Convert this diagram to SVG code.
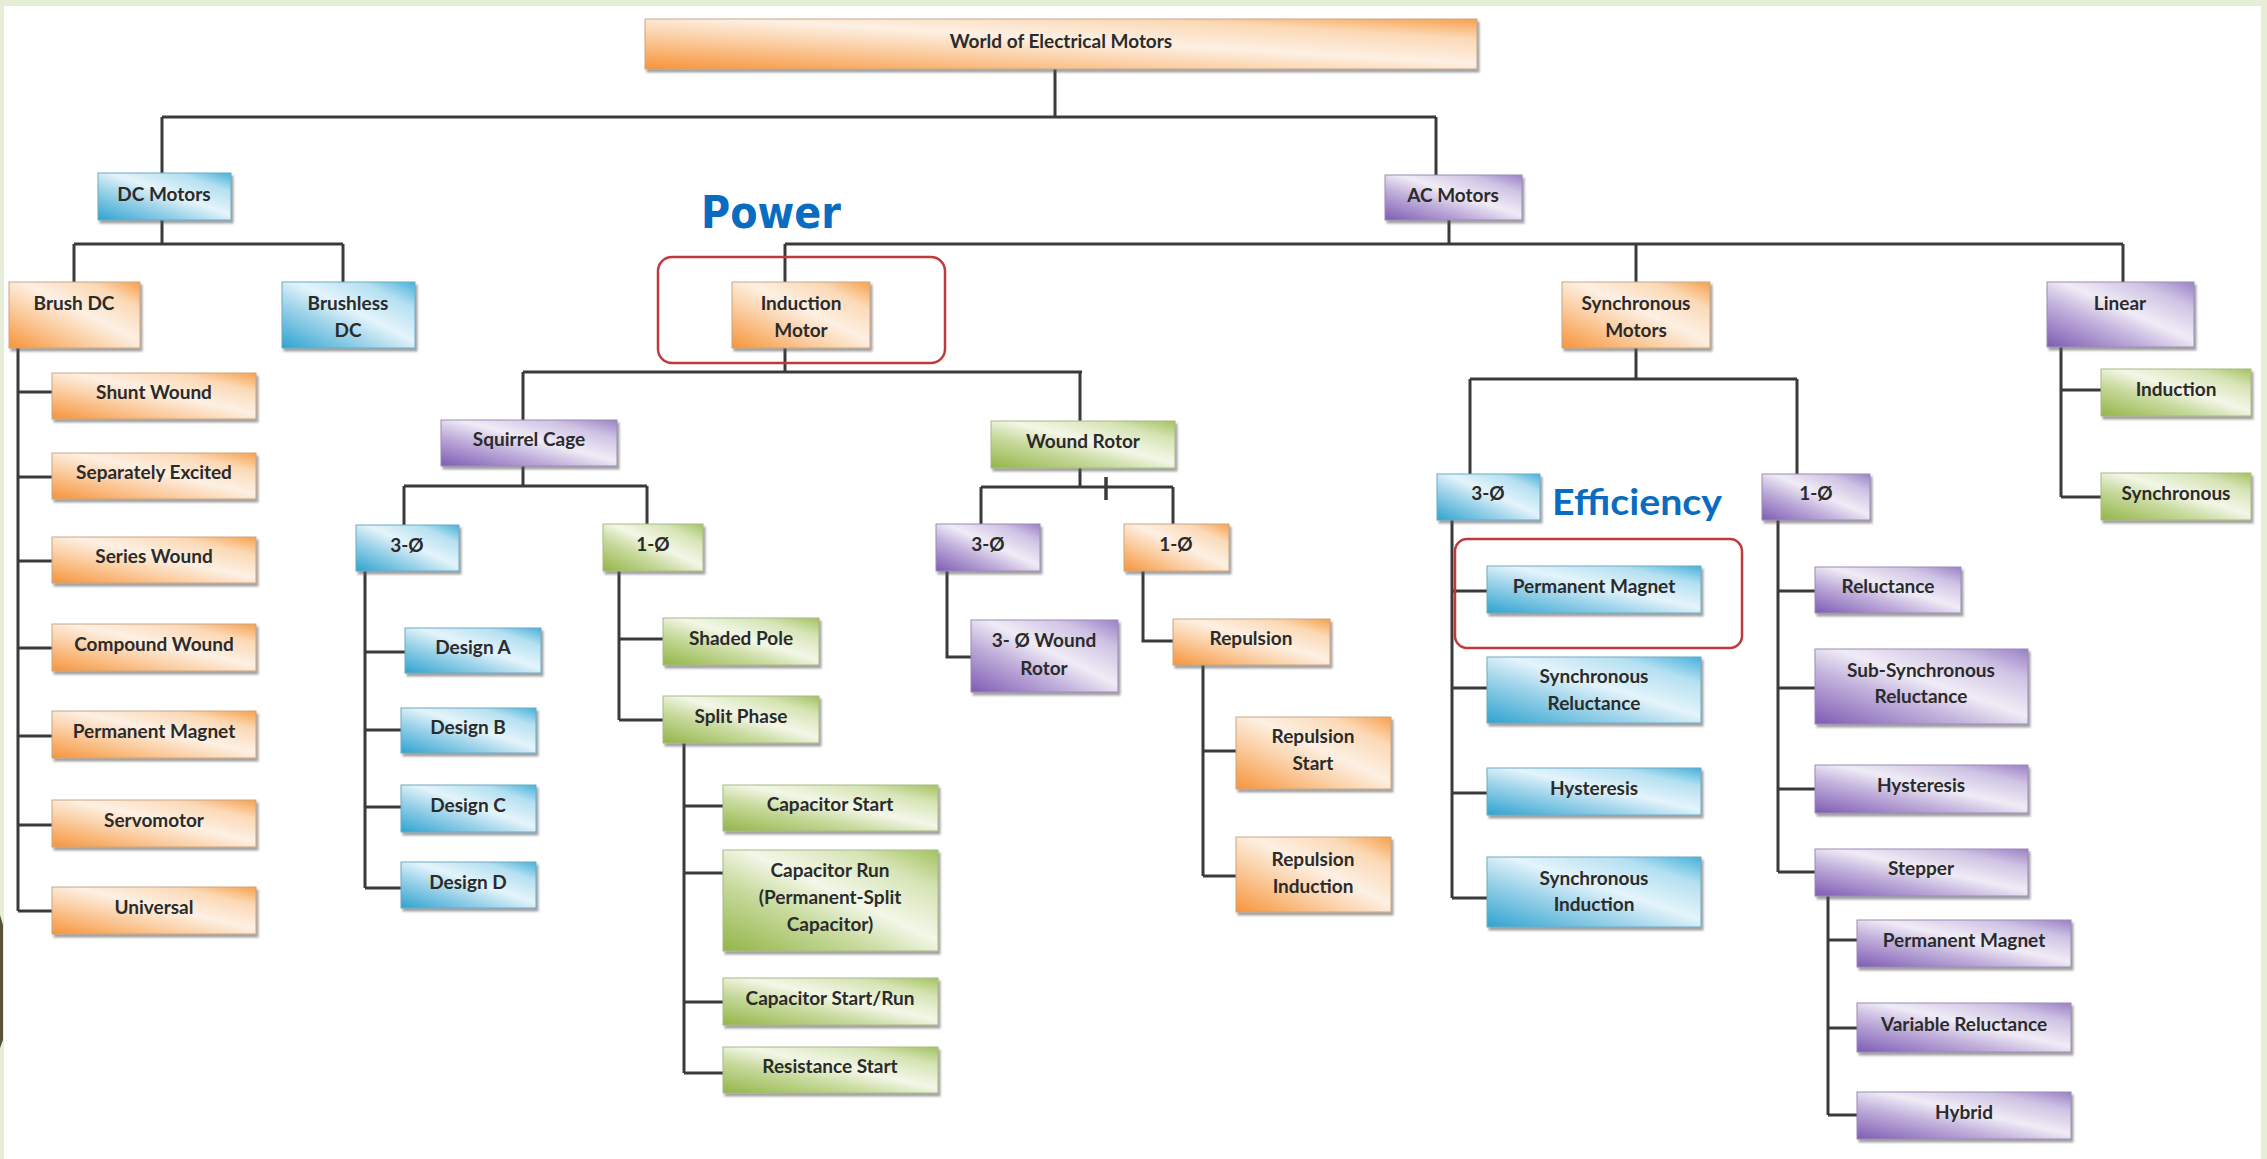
<svg xmlns="http://www.w3.org/2000/svg" width="2267" height="1159" viewBox="0 0 2267 1159">
<defs>
<linearGradient id="gO" x1="0" y1="1" x2="1" y2="0"><stop offset="0" stop-color="#f7943a"/><stop offset="0.35" stop-color="#fbd1a8"/><stop offset="0.55" stop-color="#fdf0e3"/><stop offset="0.8" stop-color="#fbd9b6"/><stop offset="1" stop-color="#f8a04c"/></linearGradient>
<linearGradient id="gB" x1="0" y1="1" x2="1" y2="0"><stop offset="0" stop-color="#2fa3d0"/><stop offset="0.35" stop-color="#9fd4ea"/><stop offset="0.55" stop-color="#e4f4fb"/><stop offset="0.8" stop-color="#b5e0f1"/><stop offset="1" stop-color="#45b1da"/></linearGradient>
<linearGradient id="gP" x1="0" y1="1" x2="1" y2="0"><stop offset="0" stop-color="#7e5bb3"/><stop offset="0.35" stop-color="#c2b1dc"/><stop offset="0.55" stop-color="#f0ecf6"/><stop offset="0.8" stop-color="#cfc3e4"/><stop offset="1" stop-color="#9a80c6"/></linearGradient>
<linearGradient id="gG" x1="0" y1="1" x2="1" y2="0"><stop offset="0" stop-color="#93b548"/><stop offset="0.35" stop-color="#c9db9f"/><stop offset="0.55" stop-color="#f3f7e8"/><stop offset="0.8" stop-color="#d6e4b5"/><stop offset="1" stop-color="#a3c25f"/></linearGradient>
<filter id="sh" x="-10%" y="-10%" width="120%" height="130%"><feDropShadow dx="2" dy="3" stdDeviation="1.2" flood-color="#555" flood-opacity="0.55"/></filter>
</defs>
<style>
.o{fill:url(#gO);stroke:#c9a585;stroke-width:1;filter:url(#sh)}
.b{fill:url(#gB);stroke:#6fa9c2;stroke-width:1;filter:url(#sh)}
.p{fill:url(#gP);stroke:#9a8cb4;stroke-width:1;filter:url(#sh)}
.g{fill:url(#gG);stroke:#a8b987;stroke-width:1;filter:url(#sh)}
text{font-family:Lato,"Liberation Sans",sans-serif;font-weight:bold;font-size:19px;fill:#2b2b2b;text-anchor:middle}
.c{fill:none;stroke:#3a3a3a;stroke-width:3}
.hl{fill:none;stroke:#c0393b;stroke-width:2.5}
text.pw{font-family:"DejaVu Sans",Tahoma,sans-serif;font-weight:bold;font-size:45px;fill:#0a6cc0;text-anchor:start}
text.ef{font-family:Lato,"Liberation Sans",sans-serif;font-weight:bold;font-size:37px;fill:#0a6cc0;text-anchor:start}
</style>
<rect width="2267" height="1159" fill="#e7eed8"/>
<rect x="4" y="6" width="2257" height="1153" fill="#ffffff"/>
<path d="M0 915 L3 925 L3 1040 L0 1048 Z" fill="#5a5236"/>

<g id="connectors">
<path class="c" d="M1055 69V117M162 117H1436M162 117V173M1436 117V175"/>
<path class="c" d="M162 220V244M74 244H343M74 244V282M343 244V282"/>
<path class="c" d="M18 348V911M18 392H52M18 477H52M18 561H52M18 648H52M18 736H52M18 825H52M18 911H52"/>
<path class="c" d="M1449 220V244M785 244H2123M785 244V282M1636 244V282M2123 244V282"/>
<path class="c" d="M785 348V372M523 372H1082M523 372V420M1080 372V421"/>
<path class="c" d="M523 466V486M404 486H647M404 486V525M647 486V524"/>
<path class="c" d="M365 571V888M365 652H405M365 730H401M365 807H401M365 888H401"/>
<path class="c" d="M619 571V720M619 639H663M619 720H663"/>
<path class="c" d="M684 743V1073M684 806H723M684 873H723M684 1002H723M684 1073H723"/>
<path class="c" d="M1080 468V487M981 487H1173M981 487V524M1173 487V524"/>
<path class="c" d="M1106 477V500" style="stroke-width:3.5"/>
<path class="c" d="M947 571V657H971M1143 571V641H1173"/>
<path class="c" d="M1203 665V876M1203 751H1236M1203 876H1236"/>
<path class="c" d="M1636 348V379M1470 379H1797M1470 379V474M1797 379V474"/>
<path class="c" d="M1452 520V898M1452 591H1487M1452 688H1487M1452 793H1487M1452 898H1487"/>
<path class="c" d="M1778 520V872M1778 591H1815M1778 688H1815M1778 789H1815M1778 872H1815"/>
<path class="c" d="M1828 896V1115M1828 940H1857M1828 1028H1857M1828 1115H1857"/>
<path class="c" d="M2061 347V497M2061 390H2101M2061 497H2101"/>
</g>

<g id="highlights">
<rect class="hl" x="658" y="257" width="287" height="106" rx="14"/>
<rect class="hl" x="1455" y="539" width="287" height="109" rx="12"/>
<text class="pw" x="701" y="228" textLength="140" lengthAdjust="spacingAndGlyphs">Power</text>
<text class="ef" x="1552" y="515" textLength="170" lengthAdjust="spacingAndGlyphs">Efficiency</text>
</g>

<g id="n-world"><rect class="o" x="645" y="19" width="832" height="50"/><text x="1061" y="48">World of Electrical Motors</text></g>
<g id="n-dc"><rect class="b" x="98" y="173" width="133" height="47"/><text x="164" y="201">DC Motors</text></g>
<g id="n-ac"><rect class="p" x="1385" y="175" width="137" height="45"/><text x="1453" y="202">AC Motors</text></g>
<g id="n-brush"><rect class="o" x="9" y="282" width="131" height="66"/><text x="74" y="310">Brush DC</text></g>
<g id="n-brushless"><rect class="b" x="282" y="282" width="133" height="66"/><text x="348" y="310">Brushless</text><text x="348" y="337">DC</text></g>
<g id="n-shunt"><rect class="o" x="52" y="373" width="204" height="46"/><text x="154" y="399">Shunt Wound</text></g>
<g id="n-sep"><rect class="o" x="52" y="453" width="204" height="46"/><text x="154" y="479">Separately Excited</text></g>
<g id="n-series"><rect class="o" x="52" y="537" width="204" height="46"/><text x="154" y="563">Series Wound</text></g>
<g id="n-compound"><rect class="o" x="52" y="624" width="204" height="47"/><text x="154" y="651">Compound Wound</text></g>
<g id="n-pm-dc"><rect class="o" x="52" y="711" width="204" height="47"/><text x="154" y="738">Permanent Magnet</text></g>
<g id="n-servo"><rect class="o" x="52" y="800" width="204" height="47"/><text x="154" y="827">Servomotor</text></g>
<g id="n-universal"><rect class="o" x="52" y="887" width="204" height="47"/><text x="154" y="914">Universal</text></g>

<g id="n-induction"><rect class="o" x="732" y="282" width="138" height="66"/><text x="801" y="310">Induction</text><text x="801" y="337">Motor</text></g>
<g id="n-squirrel"><rect class="p" x="441" y="420" width="176" height="46"/><text x="529" y="446">Squirrel Cage</text></g>
<g id="n-wound"><rect class="g" x="991" y="421" width="184" height="47"/><text x="1083" y="448">Wound Rotor</text></g>
<g id="n-sc3"><rect class="b" x="356" y="525" width="103" height="46"/><text x="407" y="552">3-Ø</text></g>
<g id="n-sc1"><rect class="g" x="603" y="524" width="100" height="47"/><text x="653" y="551">1-Ø</text></g>
<g id="n-da"><rect class="b" x="405" y="628" width="136" height="45"/><text x="473" y="654">Design A</text></g>
<g id="n-db"><rect class="b" x="401" y="708" width="135" height="45"/><text x="468" y="734">Design B</text></g>
<g id="n-dc2"><rect class="b" x="401" y="785" width="135" height="47"/><text x="468" y="812">Design C</text></g>
<g id="n-dd"><rect class="b" x="401" y="862" width="135" height="46"/><text x="468" y="889">Design D</text></g>
<g id="n-shaded"><rect class="g" x="663" y="618" width="156" height="47"/><text x="741" y="645">Shaded Pole</text></g>
<g id="n-split"><rect class="g" x="663" y="696" width="156" height="47"/><text x="741" y="723">Split Phase</text></g>
<g id="n-capstart"><rect class="g" x="723" y="785" width="215" height="46"/><text x="830" y="811">Capacitor Start</text></g>
<g id="n-caprun"><rect class="g" x="723" y="850" width="215" height="101"/><text x="830" y="877">Capacitor Run</text><text x="830" y="904">(Permanent-Split</text><text x="830" y="931">Capacitor)</text></g>
<g id="n-capsr"><rect class="g" x="723" y="978" width="215" height="47"/><text x="830" y="1005">Capacitor Start/Run</text></g>
<g id="n-resist"><rect class="g" x="723" y="1047" width="215" height="46"/><text x="830" y="1073">Resistance Start</text></g>
<g id="n-wr3"><rect class="p" x="936" y="524" width="104" height="47"/><text x="988" y="551">3-Ø</text></g>
<g id="n-wr1"><rect class="o" x="1124" y="524" width="105" height="47"/><text x="1176" y="551">1-Ø</text></g>
<g id="n-wr3w"><rect class="p" x="971" y="620" width="147" height="72"/><text x="1044" y="647">3- Ø Wound</text><text x="1044" y="675">Rotor</text></g>
<g id="n-repulsion"><rect class="o" x="1173" y="619" width="157" height="46"/><text x="1251" y="645">Repulsion</text></g>
<g id="n-repstart"><rect class="o" x="1236" y="717" width="155" height="72"/><text x="1313" y="743">Repulsion</text><text x="1313" y="770">Start</text></g>
<g id="n-repind"><rect class="o" x="1236" y="837" width="155" height="75"/><text x="1313" y="866">Repulsion</text><text x="1313" y="893">Induction</text></g>

<g id="n-sync"><rect class="o" x="1562" y="282" width="148" height="66"/><text x="1636" y="310">Synchronous</text><text x="1636" y="337">Motors</text></g>
<g id="n-linear"><rect class="p" x="2047" y="282" width="147" height="65"/><text x="2120" y="310">Linear</text></g>
<g id="n-lin-ind"><rect class="g" x="2101" y="369" width="150" height="47"/><text x="2176" y="396">Induction</text></g>
<g id="n-lin-syn"><rect class="g" x="2101" y="473" width="150" height="47"/><text x="2176" y="500">Synchronous</text></g>
<g id="n-s3"><rect class="b" x="1437" y="474" width="103" height="46"/><text x="1488" y="500">3-Ø</text></g>
<g id="n-s1"><rect class="p" x="1762" y="474" width="108" height="46"/><text x="1816" y="500">1-Ø</text></g>
<g id="n-s-pm"><rect class="b" x="1487" y="566" width="214" height="47"/><text x="1594" y="593">Permanent Magnet</text></g>
<g id="n-s-rel"><rect class="b" x="1487" y="657" width="214" height="66"/><text x="1594" y="683">Synchronous</text><text x="1594" y="710">Reluctance</text></g>
<g id="n-s-hys"><rect class="b" x="1487" y="768" width="214" height="47"/><text x="1594" y="795">Hysteresis</text></g>
<g id="n-s-ind"><rect class="b" x="1487" y="857" width="214" height="70"/><text x="1594" y="885">Synchronous</text><text x="1594" y="911">Induction</text></g>
<g id="n-reluct"><rect class="p" x="1815" y="567" width="146" height="46"/><text x="1888" y="593">Reluctance</text></g>
<g id="n-subsync"><rect class="p" x="1815" y="649" width="213" height="75"/><text x="1921" y="677">Sub-Synchronous</text><text x="1921" y="703">Reluctance</text></g>
<g id="n-hys1"><rect class="p" x="1815" y="765" width="213" height="48"/><text x="1921" y="792">Hysteresis</text></g>
<g id="n-stepper"><rect class="p" x="1815" y="849" width="213" height="47"/><text x="1921" y="875">Stepper</text></g>
<g id="n-st-pm"><rect class="p" x="1857" y="920" width="214" height="47"/><text x="1964" y="947">Permanent Magnet</text></g>
<g id="n-st-vr"><rect class="p" x="1857" y="1003" width="214" height="49"/><text x="1964" y="1031">Variable Reluctance</text></g>
<g id="n-st-hy"><rect class="p" x="1857" y="1092" width="214" height="47"/><text x="1964" y="1119">Hybrid</text></g>
</svg>
